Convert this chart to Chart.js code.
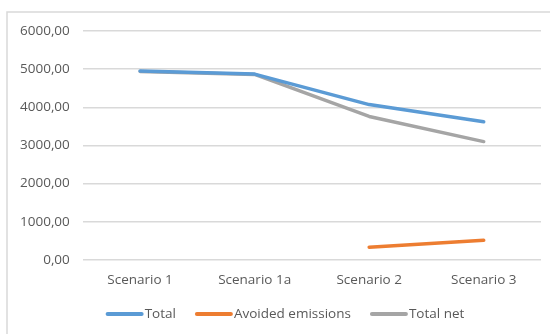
<!DOCTYPE html>
<html>
<head>
<meta charset="utf-8">
<script src="https://cdn.jsdelivr.net/npm/chart.js@4"></script>
<style>
  html, body { margin: 0; padding: 0; background: #ffffff; }
  #wrap { width: 550px; height: 334px; position: relative; }
</style>
</head>
<body>
<div id="wrap"><canvas id="c" width="550" height="334"></canvas></div>
<script>
const categories = ['Scenario 1', 'Scenario 1a', 'Scenario 2', 'Scenario 3'];
const totalValues = [4950, 4870, 4070, 3620];
const avoidedValues = [null, null, 330, 510];
const totalNetValues = [4940, 4860, 3760, 3100];
const yTicks = [0, 1000, 2000, 3000, 4000, 5000, 6000];

const textColor = '#595959';
const fontFamily = 'Open Sans';
const fontSize = 13.5;
const fontSpec = { family: fontFamily, size: fontSize };

// Thin frame on the left and top edges of the chart box
const framePlugin = {
  id: 'frame',
  beforeDraw(chart) {
    const ctx = chart.ctx;
    ctx.save();
    ctx.strokeStyle = '#d9d9d9';
    ctx.lineWidth = 1.5;
    ctx.beginPath();
    ctx.moveTo(7, 400);
    ctx.lineTo(7, 12);
    ctx.lineTo(560, 12);
    ctx.stroke();
    ctx.restore();
  }
};

// Legend row under the axis: a short thick line followed directly by the series name
const lineLegendPlugin = {
  id: 'lineLegend',
  afterDraw(chart) {
    const ctx = chart.ctx;
    const sets = chart.data.datasets;
    const swatch = 38, textGap = 1, itemGap = 19;
    ctx.save();
    ctx.font = fontSize + 'px "' + fontFamily + '"';
    ctx.textBaseline = 'middle';
    ctx.textAlign = 'left';
    const widths = sets.map(d => swatch + textGap + ctx.measureText(d.label).width);
    const total = widths.reduce((a, b) => a + b, 0) + itemGap * (sets.length - 1);
    let x = chart.width / 2 + 10 - total / 2;
    const y = 314;
    sets.forEach((d, i) => {
      ctx.strokeStyle = d.borderColor;
      ctx.lineWidth = 4;
      ctx.lineCap = 'round';
      ctx.beginPath();
      ctx.moveTo(x + 2, y);
      ctx.lineTo(x + swatch - 2, y);
      ctx.stroke();
      ctx.fillStyle = textColor;
      ctx.fillText(d.label, x + swatch + textGap, y);
      x += widths[i] + itemGap;
    });
    ctx.restore();
  }
};

const fmt = v => v.toFixed(2).replace('.', ',');

function draw() {
  new Chart(document.getElementById('c'), {
    type: 'line',
    data: {
      labels: categories,
      datasets: [
        { label: 'Total', data: totalValues, borderColor: '#5b9bd5', backgroundColor: '#5b9bd5' },
        { label: 'Avoided emissions', data: avoidedValues, borderColor: '#ed7d31', backgroundColor: '#ed7d31' },
        { label: 'Total net', data: totalNetValues, borderColor: '#a5a5a5', backgroundColor: '#a5a5a5' }
      ].map(d => Object.assign(d, {
        borderWidth: 3.5,
        borderCapStyle: 'round',
        borderJoinStyle: 'round',
        pointRadius: 0,
        pointHoverRadius: 0,
        tension: 0,
        spanGaps: false,
        fill: false
      }))
    },
    options: {
      responsive: false,
      animation: false,
      events: [],
      layout: { padding: { left: 7, right: 9, top: 31, bottom: 34 } },
      plugins: {
        tooltip: { enabled: false },
        legend: { display: false }
      },
      scales: {
        x: {
          offset: true,
          grid: { display: false, drawTicks: false },
          border: { display: false },
          ticks: { color: textColor, font: fontSpec, padding: 12, maxRotation: 0 }
        },
        y: {
          min: 0,
          max: 6000,
          afterBuildTicks(axis) { axis.ticks = yTicks.map(v => ({ value: v })); },
          grid: { color: '#d9d9d9', lineWidth: 1.5, drawTicks: false },
          border: { display: false },
          ticks: { color: textColor, font: fontSpec, padding: 13, callback: v => fmt(v) }
        }
      }
    },
    plugins: [framePlugin, lineLegendPlugin]
  });
}

if (document.fonts && document.fonts.load) {
  document.fonts.load(fontSize + 'px "' + fontFamily + '"').then(draw, draw);
} else {
  draw();
}
</script>
</body>
</html>
